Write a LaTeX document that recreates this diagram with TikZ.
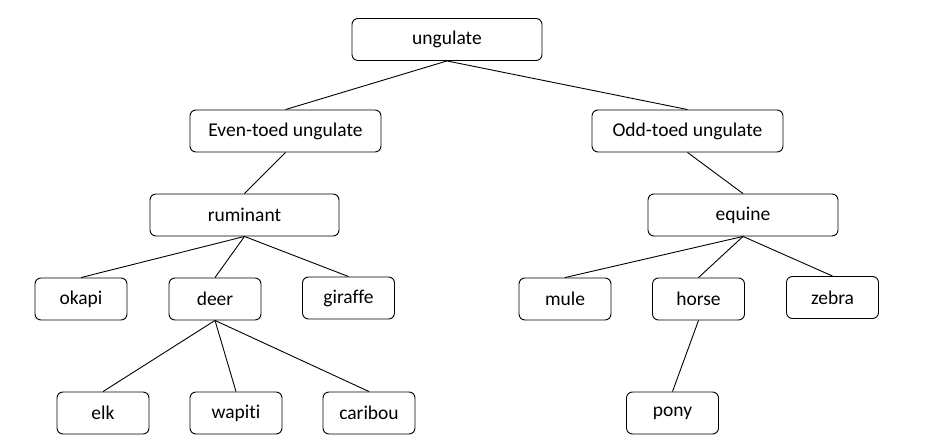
\documentclass[tikz,border=0pt]{standalone}
\usepackage{fontspec}
\setmainfont{Carlito}[Ligatures=NoCommon]
\usepackage{tikz}
\usetikzlibrary{positioning}

\begin{document}
\begin{tikzpicture}[
    x=1pt, y=-1pt,
    bigbox/.style={rectangle, draw, rounded corners=6pt, minimum width=190pt, minimum height=42pt, inner sep=0pt, line width=0.9pt, font=\fontsize{19.5}{23}\selectfont},
    smallbox/.style={bigbox, minimum width=92pt},
    link/.style={line width=0.9pt}
]
\useasboundingbox (0,0) rectangle (942,443);

% === TOP ===
\node[bigbox] (ungulate) at (447, 39.5) {ungulate};
\node[bigbox, minimum width=191pt] (even) at (285.5, 131) {Even-toed ungulate};
\node[bigbox, minimum width=191pt] (odd) at (687.5, 131) {Odd-toed ungulate};

% === MIDDLE ===
\node[bigbox, minimum width=189pt] (ruminant) at (244.5, 215) {ruminant};
\node[bigbox] (equine) at (743, 215) {equine};

% === LEAVES ===
\node[smallbox] (okapi) at (81, 299) {okapi};
\node[smallbox] (deer) at (215, 299) {deer};
\node[smallbox] (giraffe) at (348.5, 298) {giraffe};
\node[smallbox] (mule) at (565, 299) {mule};
\node[smallbox] (horse) at (698.5, 299) {horse};
\node[smallbox] (zebra) at (832.5, 297.5) {zebra};

\node[smallbox] (elk) at (103, 413) {elk};
\node[smallbox] (wapiti) at (236, 413) {wapiti};
\node[smallbox] (caribou) at (369, 413) {caribou};
\node[smallbox] (pony) at (672.5, 413) {pony};

% === LINKS ===
\draw[link] (ungulate.south) -- (even.north);
\draw[link] (ungulate.south) -- (odd.north);
\draw[link] (even.south) -- (ruminant.north);
\draw[link] (odd.south) -- (equine.north);

\draw[link] (ruminant.south) -- (okapi.north);
\draw[link] (ruminant.south) -- (deer.north);
\draw[link] (ruminant.south) -- (giraffe.north);

\draw[link] (deer.south) -- (elk.north);
\draw[link] (deer.south) -- (wapiti.north);
\draw[link] (deer.south) -- (caribou.north);

\draw[link] (equine.south) -- (mule.north);
\draw[link] (equine.south) -- (horse.north);
\draw[link] (equine.south) -- (zebra.north);
\draw[link] (horse.south) -- (pony.north);

\end{tikzpicture}
\end{document}
